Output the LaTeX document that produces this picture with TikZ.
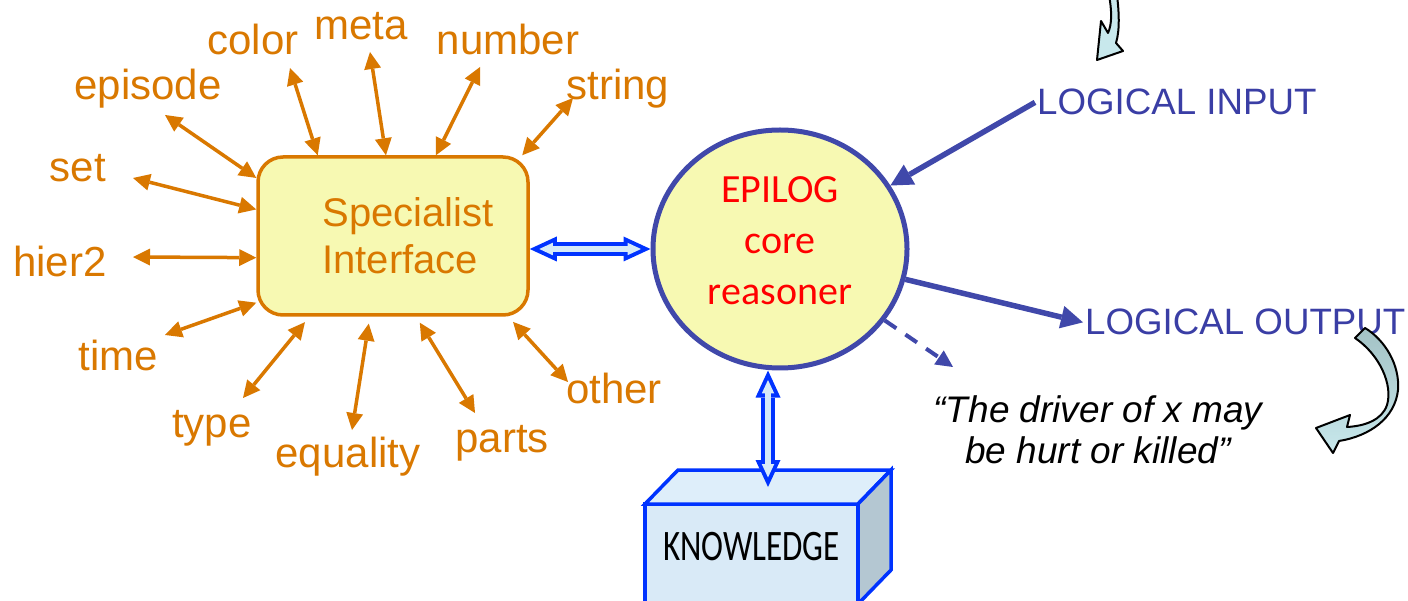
\documentclass[tikz,border=0pt]{standalone}
\usepackage{fontspec}
\setmainfont{Liberation Sans}
\newfontfamily\calibri{Carlito}
\newfontfamily\knowfont[FakeStretch=0.76]{Carlito}
\usetikzlibrary{arrows.meta,shapes.geometric,calc,positioning}
\definecolor{orng}{RGB}{217,120,0}
\definecolor{paleyel}{RGB}{247,249,178}
\definecolor{corebd}{RGB}{64,72,170}
\definecolor{logblue}{RGB}{58,62,165}
\definecolor{dblue}{RGB}{0,51,255}
\definecolor{dfill}{RGB}{214,234,248}
\definecolor{kfront}{RGB}{217,234,247}
\definecolor{ktop}{RGB}{222,238,250}
\definecolor{kside}{RGB}{180,199,210}
\definecolor{curlight}{RGB}{200,232,236}
\definecolor{curdark}{RGB}{163,194,197}
\begin{document}
\begin{tikzpicture}[x=1pt,y=-1pt,
  lab/.style={anchor=base, inner sep=0pt, text=orng, font=\fontsize{42}{50}\selectfont},
  oarr/.style={orng, line width=3.5pt, >={Triangle[length=17pt,width=17pt,line width=0pt]}, <->},
  low/.style={shorten <=7pt},
  barr/.style={corebd, line width=5.5pt, >={Triangle[length=22pt,width=23pt,line width=0pt]}, ->},
  dbl/.style={dblue, line width=14pt, >={Triangle[length=27pt,width=25pt,line width=0pt]}, <->},
  dblin/.style={dfill, line width=6.5pt, >={Triangle[length=13.5pt,width=12.5pt,line width=0pt]}, <->, shorten <=9.5pt, shorten >=9.5pt},
  curv/.style={draw=black, line width=2pt, line join=round}]
\useasboundingbox (0,0) rectangle (1408,601);
\clip (0,0) rectangle (1408,601);
% specialist box and its links
\node[draw=orng, line width=3.5pt, fill=paleyel, rounded corners=25pt, minimum width=270pt, minimum height=158pt, align=left, text=orng, font=\fontsize{40}{47}\selectfont] (spec) at (393,236) {\hspace*{30pt}Specialist\\\hspace*{30pt}Interface};
\node[lab] (color) at (253,55) {color};
\node[lab] (meta) at (361,40) {meta};
\node[lab] (number) at (508,55) {number};
\node[lab] (string) at (618,100) {string};
\node[lab] (episode) at (148,100) {episode};
\node[lab] (set) at (78,182) {set};
\node[lab] (hier2) at (60,277) {hier2};
\node[lab] (time) at (118,371) {time};
\node[lab] (type) at (212,437) {type};
\node[lab] (equality) at (348,467) {equality};
\node[lab] (parts) at (502,452) {parts};
\node[lab] (other) at (614,403) {other};
\coordinate (color-t) at (290,68);
\coordinate (meta-t) at (370,52);
\coordinate (number-t) at (480,67);
\coordinate (string-t) at (573,98);
\coordinate (episode-t) at (165,115);
\coordinate (set-t) at (133,178);
\coordinate (hier2-t) at (133,257);
\coordinate (time-t) at (165,335);
\coordinate (type-t) at (243,398);
\coordinate (equality-t) at (352,430);
\coordinate (parts-t) at (475,413);
\coordinate (other-t) at (568,382);
\draw[oarr] (spec.133) -- (color-t);
\draw[oarr] (spec.95) -- (meta-t);
\draw[oarr] (spec.62) -- (number-t);
\draw[oarr] (spec.32) -- (string-t);
\draw[oarr] (spec.157) -- (episode-t);
\draw[oarr] (spec.169) -- (set-t);
\draw[oarr] (spec.189) -- (hier2-t);
\draw[oarr] (spec.206) -- (time-t);
\draw[oarr, low] (spec.224) -- (type-t);
\draw[oarr, low] (spec.254) -- (equality-t);
\draw[oarr, low] (spec.286) -- (parts-t);
\draw[oarr, low] (spec.325) -- (other-t);
% reasoner
\node[ellipse, draw=corebd, line width=5pt, fill=paleyel, minimum width=254pt, minimum height=238pt, inner sep=0pt, align=center, text=red, font=\calibri\fontsize{40}{51}\selectfont] (core) at (780,249) {EPILOG\\core\\reasoner\\[-35pt]\mbox{}};
\node[anchor=base west, inner sep=2pt, text=logblue, font=\fontsize{36.7}{43}\selectfont] (linput) at (1035,115) {LOGICAL INPUT};
\node[anchor=base west, inner sep=2pt, text=logblue, font=\fontsize{36.7}{43}\selectfont] (loutput) at (1083,335) {LOGICAL OUTPUT};
\node[align=center, font=\itshape\fontsize{37}{41}\selectfont] (quote) at (1098,430) {“The driver of x may\\ be hurt or killed”};
\coordinate (guess) at (953,367);
\draw[barr] (linput.west) -- (core);
\draw[barr] (core) -- (loutput.west);
\draw[corebd, line width=4pt, dash pattern=on 14pt off 11pt, -{Triangle[length=17pt,width=17pt,line width=0pt]}] (core) -- (guess);
% knowledge box
\node[draw=dblue, line width=3.5pt, fill=kfront, minimum width=213pt, minimum height=100pt, outer sep=0pt, text depth=16pt, font=\knowfont\fontsize{43.5}{50}\selectfont] (know) at (751.5,554) {KNOWLEDGE};
\draw[dblue, line width=3.5pt, fill=ktop] (know.north west) -- ++(33,-34) -- ++(213,0) -- (know.north east) -- cycle;
\draw[dblue, line width=3.5pt, fill=kside] (know.north east) -- ++(33,-34) -- ++(0,100) -- (know.south east) -- cycle;
\coordinate (know-top) at ($(know.north)+(16.5,-17)$);
% double links
\draw[dbl] (spec.east |- core.west) -- (core.west);
\draw[dblin] (spec.east |- core.west) -- (core.west);
\draw[dbl] (know-top |- core.south) -- (know-top);
\draw[dblin] (know-top |- core.south) -- (know-top);
% block arrows
\draw[curv, fill=curlight] (1109,-5) .. controls (1112,12) and (1112,24) .. (1108,33) -- (1101,21) -- (1097,60) -- (1123,51) -- (1116,43) .. controls (1120,30) and (1119,12) .. (1117,-5) -- cycle;
\draw[curv, top color=curdark, bottom color=curlight] (1355,338) .. controls (1380,355) and (1393,385) .. (1387,405) .. controls (1382,420) and (1365,426) .. (1347,427) -- (1350,415) -- (1316,428) -- (1333,453) -- (1339,441) .. controls (1370,436) and (1395,418) .. (1398,390) .. controls (1400,365) and (1385,340) .. (1365,328) -- cycle;
\end{tikzpicture}
\end{document}
